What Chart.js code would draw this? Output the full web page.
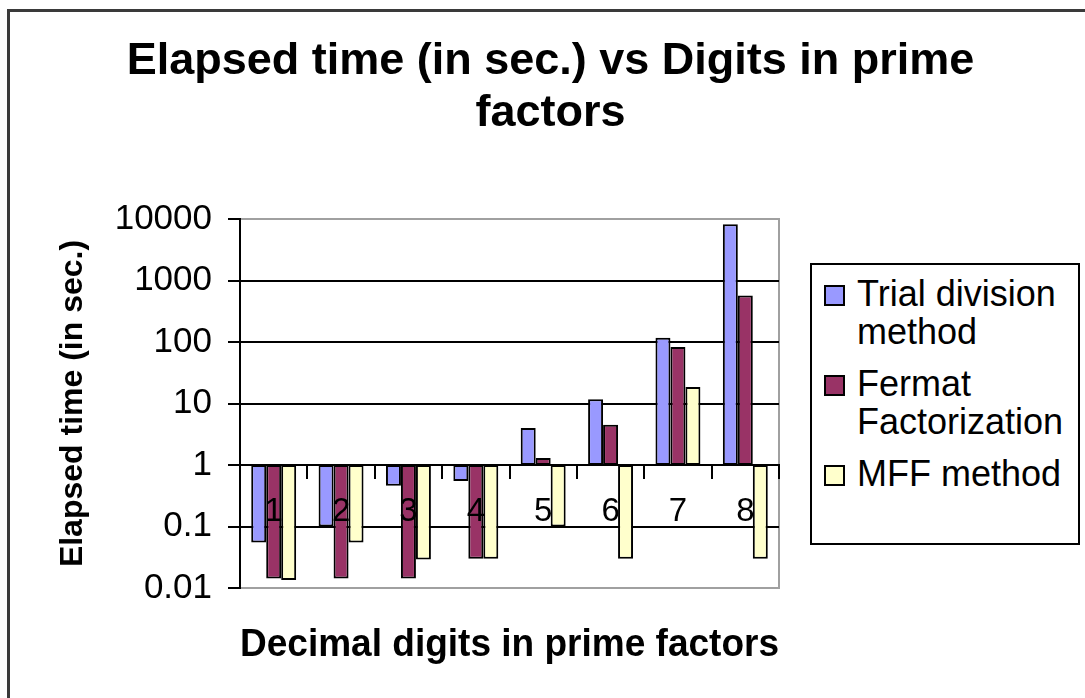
<!DOCTYPE html>
<html>
<head>
<meta charset="utf-8">
<script src="https://cdn.jsdelivr.net/npm/chart.js@4.4.1/dist/chart.umd.min.js"></script>
<style>
  html, body { margin: 0; padding: 0; background: #fff; overflow: hidden; width: 1085px; height: 698px; }
  #frame { position: absolute; left: 7px; top: 9px; width: 1200px; height: 800px; border: 3px solid #3a3a3a; box-sizing: border-box; }
  #chart { position: absolute; left: 0; top: 0; }
  #legend { position: absolute; left: 810px; top: 263px; width: 270px; height: 282px; border: 2px solid #000; box-sizing: border-box;
            background: #fff; padding-top: 10px; font-family: "Liberation Sans", Arial, sans-serif; font-size: 36px; line-height: 38px; color: #000; }
  .item { display: flex; align-items: flex-start; margin-bottom: 14px; }
  .swatch { flex: none; width: 17px; height: 17px; border: 2px solid #000; margin: 10px 12px 0 12px; }
  .txt { width: 218px; }
</style>
</head>
<body>
<div id="frame"></div>
<canvas id="chart" width="1085" height="698"></canvas>
<div id="legend"></div>
<script>
// ---- data ----
const categories = ['1', '2', '3', '4', '5', '6', '7', '8'];
const seriesNames = ['Trial division method', 'Fermat Factorization', 'MFF method'];
const trialDivision = [0.055, 0.1, 0.46, 0.55, 4.0, 11.7, 117, 8200];
const fermatFactorization = [0.0143, 0.0143, 0.0143, 0.03, 1.3, 4.5, 83, 570];
const mffMethod = [0.0135, 0.055, 0.029, 0.03, 0.1, 0.03, 18.5, 0.03];
const yTicks = [0.01, 0.1, 1, 10, 100, 1000, 10000];
const axisCross = 1;
const titleLines = ['Elapsed time (in sec.) vs Digits in prime', 'factors'];
const yTitle = 'Elapsed time (in sec.)';
const xTitle = 'Decimal digits in prime factors';

const colors = ['#9999FF', '#993366', '#FFFFCC'];
const FONT = '"Liberation Sans", Arial, sans-serif';

const allSeries = [trialDivision, fermatFactorization, mffMethod];

const plotFrame = {
  id: 'plotFrame',
  beforeDraw(chart) {
    const a = chart.chartArea, ctx = chart.ctx;
    ctx.save();
    ctx.strokeStyle = '#a0a0a0';
    ctx.lineWidth = 2;
    ctx.strokeRect(a.left, a.top, a.right - a.left, a.bottom - a.top);
    ctx.restore();
  }
};

const chart = new Chart(document.getElementById('chart'), {
  type: 'bar',
  data: {
    labels: categories,
    datasets: allSeries.map((vals, i) => ({
      label: seriesNames[i],
      data: vals.map(v => [axisCross, v]),
      backgroundColor: colors[i],
      borderColor: '#000',
      borderWidth: 2,
      borderSkipped: false,
      categoryPercentage: 0.667,
      barPercentage: 1.0
    }))
  },
  plugins: [plotFrame],
  options: {
    responsive: false,
    animation: false,
    layout: { padding: { left: 16, right: 0, top: 0, bottom: 0 } },
    plugins: {
      legend: { display: false },
      tooltip: { enabled: false },
      title: {
        display: true,
        text: titleLines,
        color: '#000',
        font: { family: FONT, size: 45, weight: 'bold', lineHeight: 52 / 45 },
        padding: { top: 36, bottom: 79 }
      }
    },
    scales: {
      x: {
        axis: 'x',
        type: 'category',
        position: { y: axisCross },
        offset: true,
        grid: { display: true, drawOnChartArea: false, drawTicks: true, tickLength: 13, color: '#000', lineWidth: 2, offset: true, z: 1 },
        border: { display: true, color: '#000', width: 2, z: 1 },
        ticks: { color: '#000', font: { family: FONT, size: 33 }, padding: 14, maxRotation: 0, z: 1 }
      },
      xTitle: {
        axis: 'x',
        type: 'category',
        position: 'bottom',
        grid: { display: false, drawTicks: false },
        border: { display: false },
        ticks: { display: false },
        title: { display: true, text: xTitle, color: '#000', font: { family: FONT, size: 38, weight: 'bold' }, padding: { top: 0, bottom: 30 } },
        afterFit(scale) { scale.height = 110; }
      },
      y: {
        axis: 'y',
        type: 'logarithmic',
        position: 'left',
        min: yTicks[0],
        max: yTicks[yTicks.length - 1],
        afterBuildTicks(scale) { scale.ticks = yTicks.map(v => ({ value: v })); },
        afterFit(scale) { scale.width = 224; },
        ticks: {
          color: '#000',
          font: { family: FONT, size: 35 },
          padding: 16,
          callback: (v) => String(v)
        },
        grid: {
          color: (ctx) => (ctx.tick && (ctx.tick.value === yTicks[0] || ctx.tick.value === yTicks[yTicks.length - 1])) ? '#a0a0a0' : '#000',
          tickColor: '#000',
          lineWidth: 2,
          tickLength: 12
        },
        border: { display: true, color: '#000', width: 2 },
        title: { display: true, text: yTitle, color: '#000', font: { family: FONT, size: 32, weight: 'bold' }, padding: { top: 38, bottom: 0 } }
      },
      yR: {
        axis: 'y',
        type: 'linear',
        position: 'right',
        grid: { display: false, drawTicks: false },
        border: { display: false },
        ticks: { display: false },
        afterFit(scale) { scale.width = 306; }
      }
    }
  }
});

// HTML legend built from the chart's datasets
const legendEl = document.getElementById('legend');
chart.data.datasets.forEach(ds => {
  const item = document.createElement('div');
  item.className = 'item';
  const sw = document.createElement('span');
  sw.className = 'swatch';
  sw.style.background = ds.backgroundColor;
  const t = document.createElement('span');
  t.className = 'txt';
  t.textContent = ds.label;
  item.appendChild(sw);
  item.appendChild(t);
  legendEl.appendChild(item);
});
</script>
</body>
</html>
